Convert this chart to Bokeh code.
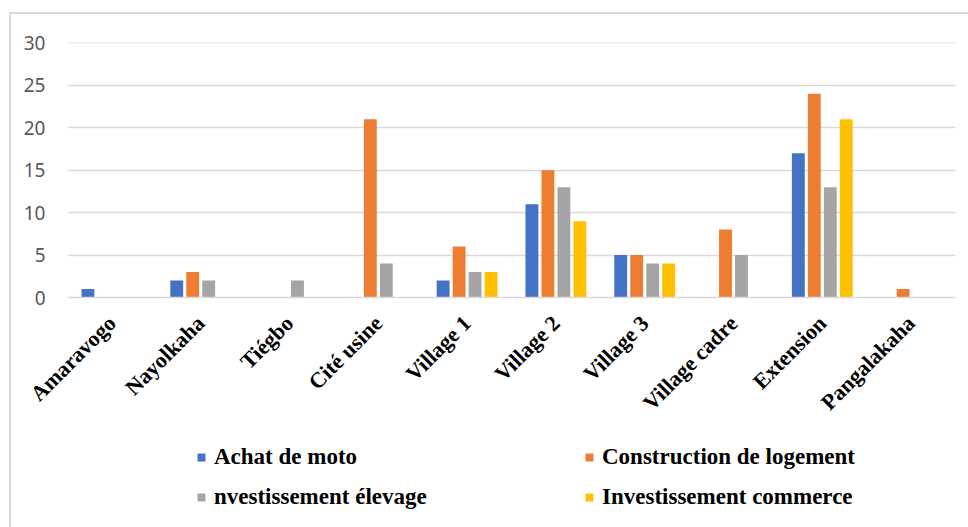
from bokeh.plotting import figure
from bokeh.layouts import column
from bokeh.models import ColumnDataSource, Range1d, FactorRange, Legend, LegendItem, FixedTicker
from bokeh.transform import dodge
from bokeh.embed import file_html
from bokeh.resources import INLINE
import math

categories = ["Amaravogo", "Nayolkaha", "Tiégbo", "Cité usine", "Village 1",
              "Village 2", "Village 3", "Village cadre", "Extension", "Pangalakaha"]
achat_moto = [1, 2, 0, 0, 2, 11, 5, 0, 17, 0]
construction_logement = [0, 3, 0, 21, 6, 15, 5, 8, 24, 1]
investissement_elevage = [0, 2, 2, 4, 3, 13, 4, 5, 13, 0]
investissement_commerce = [0, 0, 0, 0, 3, 9, 4, 0, 21, 0]
series_names = ["Achat de moto", "Construction de logement",
                "nvestissement élevage", "Investissement commerce"]
y_ticks = [0, 5, 10, 15, 20, 25, 30]

colors = ["#4472C4", "#ED7D31", "#A5A5A5", "#FFC000"]
keys = ["a", "c", "e", "i"]
source = ColumnDataSource(dict(cat=categories, a=achat_moto, c=construction_logement,
                               e=investissement_elevage, i=investissement_commerce))

p = figure(x_range=FactorRange(*categories), y_range=Range1d(0, 30.05),
           width=957, height=430, output_backend="svg", toolbar_location=None,
           min_border_left=56, min_border_top=28, min_border_right=13, min_border_bottom=147)
p.outline_line_color = None
p.x_range.range_padding = 0
p.x_range.factor_padding = 0

offsets = [-0.27, -0.09, 0.09, 0.27]
renderers = []
for k, off, col in zip(keys, offsets, colors):
    r = p.vbar(x=dodge("cat", off, range=p.x_range), top=k, width=0.145, bottom=0,
               source=source, fill_color=col, line_color=None)
    renderers.append(r)

p.yaxis.ticker = FixedTicker(ticks=y_ticks)
p.yaxis.axis_line_color = None
p.yaxis.major_tick_line_color = None
p.yaxis.minor_tick_line_color = None
p.yaxis.major_label_text_font = "Noto Sans"
p.yaxis.major_label_text_font_size = "19px"
p.yaxis.major_label_text_color = "#595959"
p.yaxis.major_label_standoff = 16

p.xaxis.axis_line_color = "#d9d9d9"
p.xaxis.axis_line_width = 1.5
p.xaxis.major_tick_line_color = None
p.xaxis.minor_tick_line_color = None
p.xaxis.major_label_orientation = math.pi / 4
p.xaxis.major_label_text_font = "Liberation Serif"
p.xaxis.major_label_text_font_style = "bold"
p.xaxis.major_label_text_font_size = "22px"
p.xaxis.major_label_text_color = "#000000"
p.xaxis.major_label_standoff = 16

p.xgrid.grid_line_color = None
p.ygrid.grid_line_color = "#d9d9d9"
p.ygrid.grid_line_width = 1.5

# legend panel (separate figure below the chart; zero-height proxies carry the series colours)
p2 = figure(width=957, height=83, output_backend="svg", toolbar_location=None,
            x_range=Range1d(0, 1), y_range=Range1d(0, 1),
            x_axis_location=None, y_axis_location=None,
            min_border_left=0, min_border_right=0, min_border_top=0, min_border_bottom=0)
p2.outline_line_color = None
p2.xgrid.grid_line_color = None
p2.ygrid.grid_line_color = None
proxy = ColumnDataSource(dict(x=[-5], top=[-5]))
legend_renderers = [p2.vbar(x="x", top="top", bottom="top", width=1, source=proxy,
                            fill_color=col, line_color=None) for col in colors]

items = [LegendItem(label=series_names[i], renderers=[legend_renderers[i]]) for i in [0, 2, 1, 3]]
leg = Legend(items=items, location=(129, 17), orientation="vertical", nrows=2,
             padding=0, margin=0, spacing=14, border_line_color=None,
             background_fill_alpha=0, glyph_width=10, glyph_height=10,
             label_height=26, label_width=356, label_standoff=8,
             label_text_font="Liberation Serif", label_text_font_style="bold",
             label_text_font_size="23px", label_text_color="#000000")
p2.add_layout(leg, "center")

layout = column(p, p2, spacing=0)
layout.styles = {"border-left": "2px solid #d9d9d9", "border-top": "2px solid #d9d9d9",
                 "margin-left": "9px", "margin-top": "12px"}

open("out.html", "w").write(file_html(layout, INLINE))
